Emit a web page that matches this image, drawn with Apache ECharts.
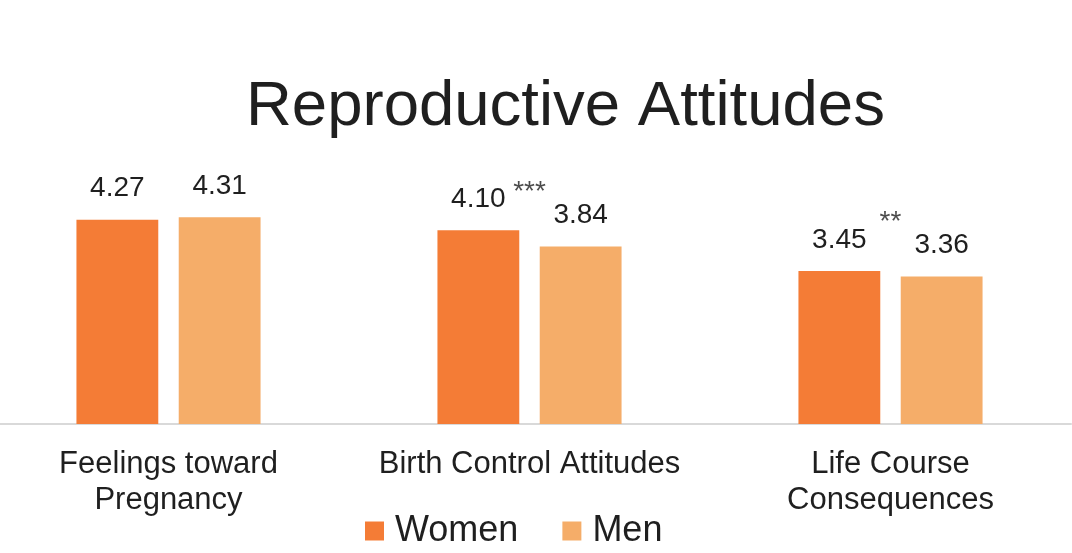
<!DOCTYPE html>
<html>
<head>
<meta charset="utf-8">
<script src="https://cdn.jsdelivr.net/npm/echarts@6/dist/echarts.min.js"></script>
<style>
  html, body { margin: 0; padding: 0; background: #fff; }
  #chart { width: 1072px; height: 553px; }
</style>
</head>
<body>
<div id="chart"></div>
<script>
// data
const categories = ['Feelings toward\nPregnancy', 'Birth Control Attitudes', 'Life Course\nConsequences'];
const women = [4.27, 4.10, 3.45];
const men = [4.31, 3.84, 3.36];
const significance = ['', '***', '**'];

const chart = echarts.init(document.getElementById('chart'));
const textColor = '#1f1f1f';
const font = 'Liberation Sans, Arial, sans-serif';

chart.setOption({
  animation: false,
  title: {
    text: 'Reproductive Attitudes',
    left: 246,
    top: 75,
    padding: 0,
    textStyle: { fontSize: 63.5, fontWeight: 'normal', color: textColor, fontFamily: font }
  },
  legend: {
    data: ['Women', 'Men'],
    left: 365,
    top: 513,
    itemWidth: 19,
    itemHeight: 19,
    itemGap: 44,
    padding: 0,
    icon: 'rect',
    textStyle: { fontSize: 36, color: textColor, fontFamily: font, padding: [0, 0, 0, 6] }
  },
  grid: {
    left: -12,
    width: 1083,
    top: 174,
    bottom: 129,
    containLabel: false,
    outerBoundsMode: 'none'
  },
  xAxis: {
    type: 'category',
    data: categories,
    axisTick: { show: false },
    axisLine: { lineStyle: { color: '#d9d9d9', width: 2 } },
    axisLabel: {
      interval: 0,
      fontSize: 31,
      lineHeight: 36,
      margin: 22,
      color: textColor,
      fontFamily: font
    }
  },
  yAxis: {
    type: 'value',
    min: 1,
    max: 5,
    show: false,
    splitLine: { show: false }
  },
  series: [
    {
      name: 'Women',
      type: 'bar',
      data: women,
      barGap: '25%',
      barCategoryGap: '49%',
      itemStyle: { color: '#f47c36' },
      label: {
        show: true,
        position: 'top',
        distance: 17,
        formatter: (p) => p.value.toFixed(2),
        fontSize: 28,
        color: textColor,
        fontFamily: font
      }
    },
    {
      name: 'Men',
      type: 'bar',
      data: men,
      itemStyle: { color: '#f5ad69' },
      label: {
        show: true,
        position: 'top',
        distance: 17,
        formatter: (p) => p.value.toFixed(2),
        fontSize: 28,
        color: textColor,
        fontFamily: font
      }
    },
    {
      // significance stars, sitting between the two bars of a group
      name: 'sig',
      type: 'scatter',
      symbolSize: 0,
      silent: true,
      data: men.map((v, i) => (significance[i] ? [i, v] : null)).filter(Boolean),
      label: {
        show: true,
        position: 'top',
        distance: 40,
        formatter: (p) => significance[p.value[0]],
        fontSize: 28,
        color: textColor,
        fontFamily: font
      }
    }
  ]
});
</script>
</body>
</html>
